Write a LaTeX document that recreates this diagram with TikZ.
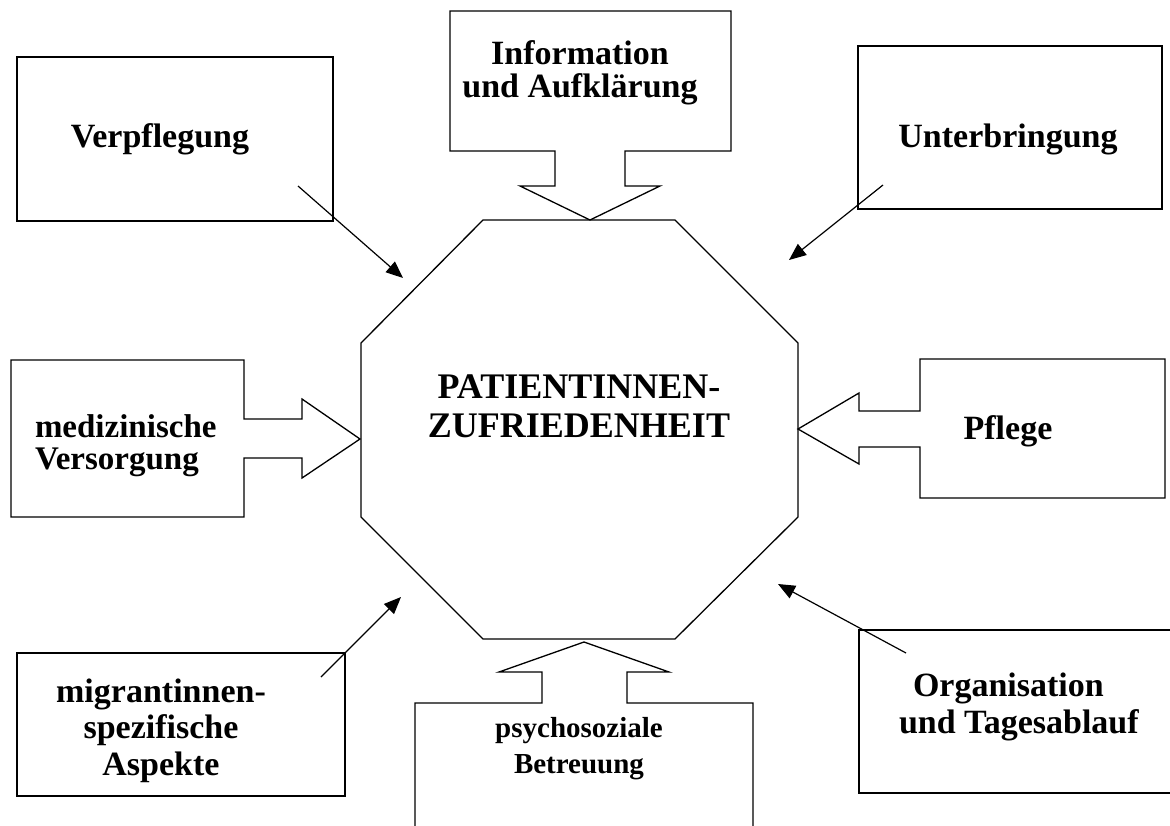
\documentclass[tikz,border=0pt]{standalone}
\usepackage{fontspec}
\setmainfont{Liberation Serif}
\usetikzlibrary{arrows.meta}

% bold text at a given size
\newcommand\fs[1]{\fontsize{#1}{#1}\selectfont\bfseries}
% a stack of lines whose first baseline is the node's base
\newcommand\tstack[2]{\vtop{\baselineskip=#1\lineskiplimit=-100pt\relax #2}}
% one centred line / one left-aligned line (zero width)
\newcommand\tline[1]{\hbox to 0pt{\hss#1\hss}}
\newcommand\lline[1]{\hbox to 0pt{#1\hss}}

\begin{document}
\begin{tikzpicture}[x=1pt,y=-1pt,line join=miter,
  outline/.style={draw=black,line width=1.3pt},
  conn/.style={draw=black,line width=1.2pt,-{Triangle[length=17pt,width=14pt]}},
  lbl/.style={inner sep=0pt,anchor=base}]
\useasboundingbox (0,0) rectangle (1170,825);
\fill[white] (0,0) rectangle (1170,825);
\clip (0,0) rectangle (1170,825);

% central octagon
\coordinate (o1) at (483,220);
\coordinate (o2) at (675,220);
\coordinate (o3) at (798,343);
\coordinate (o4) at (798,517);
\coordinate (o5) at (675,639);
\coordinate (o6) at (483,639);
\coordinate (o7) at (361,517);
\coordinate (o8) at (361,343);
\draw[outline] (o1) -- (o2) -- (o3) -- (o4) -- (o5) -- (o6) -- (o7) -- (o8) -- cycle;
\node[lbl,font=\fs{36}] (center) at (579,398)
  {\tstack{39pt}{\tline{PATIENTINNEN-}\tline{ZUFRIEDENHEIT}}};

% plain boxes
\draw[outline] (17,57) rectangle (333,221);
\draw[outline] (858,46) rectangle (1162,209);
\draw[outline] (17,653) rectangle (345,796);
\draw[outline] (1185,630) -- (859,630) -- (859,793) -- (1185,793);

% boxes with block arrows
\draw[outline] (450,11) -- (731,11) -- (731,151) -- (625,151) -- (625,186)
  -- (660,186) -- (590,220) -- (520,186) -- (555,186) -- (555,151)
  -- (450,151) -- cycle;
\draw[outline] (11,360) -- (244,360) -- (244,419) -- (302,419) -- (302,399)
  -- (360,439) -- (302,478) -- (302,458) -- (244,458) -- (244,517)
  -- (11,517) -- cycle;
\draw[outline] (920,359) -- (1165,359) -- (1165,498) -- (920,498) -- (920,447)
  -- (859,447) -- (859,464) -- (798,429) -- (859,393) -- (859,411)
  -- (920,411) -- cycle;
\draw[outline] (415,840) -- (415,703) -- (542,703) -- (542,672) -- (499,672)
  -- (584,642) -- (669,672) -- (627,672) -- (627,703) -- (753,703)
  -- (753,840);

% line arrows
\coordinate (verpf-from) at (298,186);
\coordinate (verpf-to) at (403,278);
\coordinate (unter-from) at (883,185);
\coordinate (unter-to) at (789,260);
\coordinate (migr-from) at (321,677);
\coordinate (migr-to) at (401,597);
\coordinate (orga-from) at (906,653);
\coordinate (orga-to) at (778,584);
\draw[conn] (verpf-from) -- (verpf-to);
\draw[conn] (unter-from) -- (unter-to);
\draw[conn] (migr-from) -- (migr-to);
\draw[conn] (orga-from) -- (orga-to);

% labels
\node[lbl,font=\fs{34}] (info) at (580,64)
  {\tstack{33pt}{\tline{Information}\tline{und Aufklärung}}};
\node[lbl,font=\fs{34}] (verpf) at (160,147) {\tstack{36pt}{\tline{Verpflegung}}};
\node[lbl,font=\fs{34}] (unter) at (1008,147) {\tstack{36pt}{\tline{Unterbringung}}};
\node[lbl,font=\fs{33}] (medi) at (35,437)
  {\tstack{32pt}{\lline{medizinische}\lline{Versorgung}}};
\node[lbl,font=\fs{34}] (pflege) at (1008,439) {\tstack{36pt}{\tline{Pflege}}};
\node[lbl,font=\fs{34}] (migr) at (161,702)
  {\tstack{36.5pt}{\tline{migrantinnen-}\tline{spezifische}\tline{Aspekte}}};
\node[lbl,font=\fs{29}] (psycho) at (579,737)
  {\tstack{36pt}{\tline{psychosoziale}\tline{Betreuung}}};
\node[lbl,font=\fs{34}] (orga) at (899,696)
  {\tstack{37pt}{\lline{\kern14pt Organisation}\lline{und Tagesablauf}}};
\end{tikzpicture}
\end{document}
